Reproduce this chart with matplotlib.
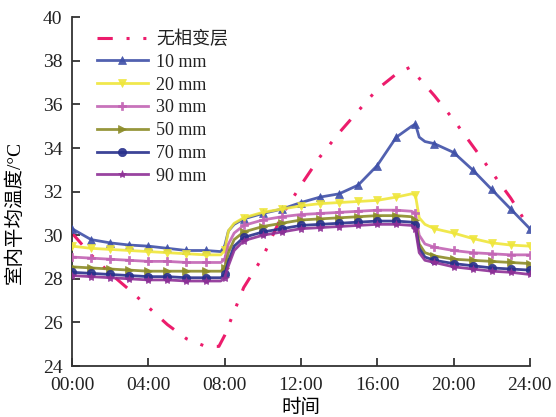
import matplotlib
matplotlib.use("Agg")
import matplotlib.pyplot as plt
import numpy as np

# time axis (hours) shared by the PCM curves
t = [0, 1, 2, 3, 4, 5, 6, 7, 7.8, 8.0, 8.2, 8.5, 9, 10, 11, 12, 13, 14, 15, 16, 17,
     17.8, 18.0, 18.2, 18.5, 19, 20, 21, 22, 23, 24]

t_none = [0, 1, 2, 3, 4, 5, 6, 7, 7.7, 8, 9, 10, 11, 12, 13, 14, 15, 16, 17, 17.7,
          18.2, 19, 20, 21, 22, 23, 24]
temp_none = [30.1, 29.1, 28.25, 27.5, 26.7, 25.9, 25.25, 24.9, 24.9, 25.4, 27.6, 29.0,
             30.9, 32.3, 33.6, 34.7, 35.7, 36.7, 37.4, 37.7, 37.2, 36.4, 35.3, 34.1,
             32.9, 31.7, 30.3]

temp_10 = [30.3, 29.8, 29.65, 29.55, 29.5, 29.4, 29.3, 29.3, 29.25, 29.5, 30.2, 30.5,
           30.75, 31.0, 31.2, 31.5, 31.75, 31.9, 32.3, 33.2, 34.5, 35.0, 35.1, 34.5,
           34.3, 34.2, 33.8, 33.0, 32.1, 31.2, 30.3]
temp_20 = [29.5, 29.4, 29.35, 29.3, 29.25, 29.2, 29.15, 29.1, 29.1, 29.3, 30.2, 30.55,
           30.8, 31.05, 31.2, 31.35, 31.45, 31.5, 31.55, 31.6, 31.75, 31.9, 31.85, 30.8,
           30.5, 30.3, 30.1, 29.85, 29.65, 29.55, 29.5]
temp_30 = [29.0, 28.95, 28.9, 28.85, 28.8, 28.8, 28.75, 28.75, 28.75, 28.9, 29.6, 30.1,
           30.45, 30.7, 30.85, 30.95, 31.0, 31.05, 31.1, 31.15, 31.15, 31.1, 31.0, 30.0,
           29.6, 29.45, 29.3, 29.2, 29.15, 29.1, 29.1]
temp_50 = [28.55, 28.5, 28.45, 28.4, 28.35, 28.35, 28.35, 28.35, 28.35, 28.5, 29.2, 29.8,
           30.15, 30.4, 30.55, 30.7, 30.75, 30.8, 30.85, 30.9, 30.9, 30.85, 30.7, 29.6,
           29.2, 29.05, 28.9, 28.85, 28.8, 28.75, 28.7]
temp_70 = [28.3, 28.25, 28.2, 28.15, 28.1, 28.1, 28.05, 28.05, 28.05, 28.2, 28.8, 29.5,
           29.9, 30.15, 30.3, 30.45, 30.5, 30.55, 30.6, 30.65, 30.65, 30.6, 30.45, 29.4,
           29.0, 28.85, 28.7, 28.6, 28.5, 28.45, 28.4]
temp_90 = [28.15, 28.1, 28.05, 28.0, 27.95, 27.95, 27.9, 27.9, 27.9, 28.05, 28.6, 29.3,
           29.75, 30.0, 30.15, 30.3, 30.35, 30.4, 30.45, 30.5, 30.5, 30.45, 30.3, 29.2,
           28.85, 28.75, 28.55, 28.45, 28.35, 28.3, 28.2]

labels = ["10 mm", "20 mm", "30 mm", "50 mm", "70 mm", "90 mm"]
series = [temp_10, temp_20, temp_30, temp_50, temp_70, temp_90]
colors = ["#3f50a8", "#efe63a", "#c264b4", "#8c8c28", "#28308c", "#8e3096"]
markers = ["^", "v", "P", ">", "o", "*"]

xticks = [0, 4, 8, 12, 16, 20, 24]
xtick_labels = ["00:00", "04:00", "08:00", "12:00", "16:00", "20:00", "24:00"]
yticks = [24, 26, 28, 30, 32, 34, 36, 38, 40]

serif = ["Liberation Serif", "DejaVu Serif"]
cjk = ["Noto Sans CJK SC", "DejaVu Sans"]
mixed = ["Liberation Serif", "Noto Sans CJK SC"]

fig = plt.figure(figsize=(5.56, 4.17), dpi=100, facecolor="white")
ax = fig.add_axes([0.1295, 0.1223, 0.8235, 0.8362])

hour_idx = [i for i, v in enumerate(t) if float(v).is_integer()]

ax.plot(t_none, temp_none, color="#ec1c6c", lw=2.2,
        linestyle=(0, (5, 4.5, 1, 4.5, 1, 4.5)), dash_capstyle="butt",
        label="无相变层", zorder=2)

for vals, lab, col, mk in zip(series, labels, colors, markers):
    ax.plot(t, vals, color=col, lw=2.0, marker=mk, markersize=6,
            markevery=hour_idx, markeredgewidth=0.5, label=lab, alpha=0.9, zorder=3)

ax.set_xlim(0, 24)
ax.set_ylim(24, 40)
ax.set_xticks(xticks)
ax.set_xticklabels(xtick_labels, fontfamily=serif, fontsize=14)
ax.set_yticks(yticks)
ax.set_yticklabels([str(v) for v in yticks], fontfamily=serif, fontsize=14)
ax.tick_params(direction="in", length=6, width=1.2, colors="#222222")
ax.tick_params(axis="x", pad=8)
ax.tick_params(axis="y", pad=7)

for side in ["top", "right"]:
    ax.spines[side].set_visible(False)
for side in ["left", "bottom"]:
    ax.spines[side].set_linewidth(1.3)
    ax.spines[side].set_color("#333333")

ax.set_xlabel("时间", fontfamily=cjk, fontsize=14)
ax.xaxis.set_label_coords(0.5, -0.09)
ax.set_ylabel("室内平均温度/°C", fontfamily=mixed, fontsize=14)
ax.yaxis.set_label_coords(-0.105, 0.44)

leg = ax.legend(loc="upper left", bbox_to_anchor=(0.055, 0.962), frameon=False,
                borderpad=0, borderaxespad=0, handlelength=2.8, handletextpad=0.45,
                labelspacing=0.32, prop={"family": mixed, "size": 13})
for txt in leg.get_texts():
    txt.set_color("#222222")

fig.savefig("out.png", dpi=100, facecolor="white")
